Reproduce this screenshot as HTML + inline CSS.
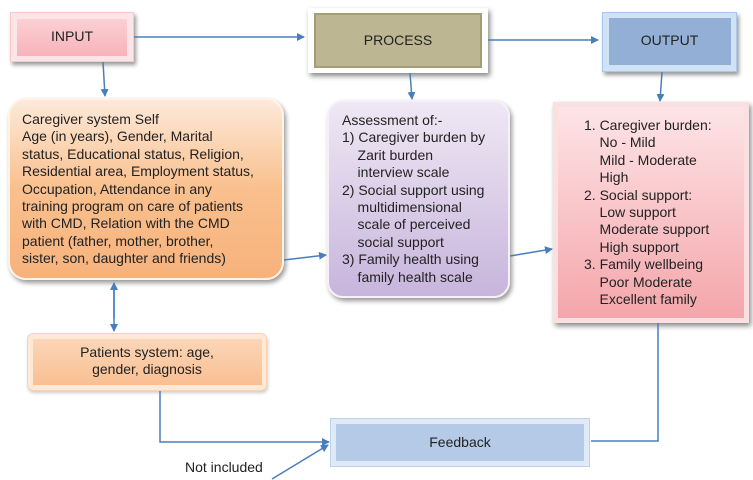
<!DOCTYPE html>
<html><head><style>
body{margin:0;width:753px;height:480px;background:#fff;position:relative;font-family:"Liberation Sans",sans-serif;color:#222;overflow:hidden}
.b{position:absolute;box-sizing:border-box}
.t{position:absolute;font-size:14px;line-height:17.4px}
</style></head><body>
<div class="b" style="left:10px;top:12px;width:124px;height:50px;background:#fde4e6;box-shadow:2px 3px 4px #999;border:1px solid #f6c8cc"></div>
<div class="b" style="left:17px;top:19px;width:110px;height:37px;background:linear-gradient(#fbd0d4,#f7b3b9)"></div>
<div class="t" style="left:10px;top:28px;width:124px;text-align:center">INPUT</div>

<div class="b" style="left:308px;top:8px;width:180px;height:65px;background:#fff;box-shadow:2px 3px 5px #888"></div>
<div class="b" style="left:314px;top:13px;width:168px;height:55px;background:#bdb693;border:2px solid #a49c74"></div>
<div class="t" style="left:308px;top:32px;width:180px;text-align:center">PROCESS</div>

<div class="b" style="left:602px;top:12px;width:135px;height:60px;background:#cfe2f6;box-shadow:2px 3px 4px #999;border:1px solid #a8c8ea"></div>
<div class="b" style="left:609px;top:18px;width:122px;height:47px;background:#93afd6"></div>
<div class="t" style="left:602px;top:32px;width:135px;text-align:center">OUTPUT</div>

<div class="b" style="left:8px;top:98px;width:276px;height:182px;border-radius:18px;background:linear-gradient(#fde9d9,#f9c08e 50%,#f7b27c);box-shadow:2px 3px 5px #999;border:2px solid #fff3e6"></div>
<div class="t" style="left:22px;top:111px;width:260px">Caregiver system Self<br>Age (in years), Gender, Marital<br>status, Educational status, Religion,<br>Residential area, Employment status,<br>Occupation, Attendance in any<br>training program on care of patients<br>with CMD, Relation with the CMD<br>patient (father, mother, brother,<br>sister, son, daughter and friends)</div>

<div class="b" style="left:327px;top:100px;width:183px;height:198px;border-radius:16px;background:linear-gradient(#efe8f4,#c7b5dc);box-shadow:2px 3px 5px #999;border:2px solid #f5f0f9"></div>
<div class="t" style="left:342px;top:112px;width:170px">Assessment of:-<br>1) Caregiver burden by<br>&nbsp;&nbsp;&nbsp;&nbsp;Zarit burden<br>&nbsp;&nbsp;&nbsp;&nbsp;interview scale<br>2) Social support using<br>&nbsp;&nbsp;&nbsp;&nbsp;multidimensional<br>&nbsp;&nbsp;&nbsp;&nbsp;scale of perceived<br>&nbsp;&nbsp;&nbsp;&nbsp;social support<br>3) Family health using<br>&nbsp;&nbsp;&nbsp;&nbsp;family health scale</div>

<div class="b" style="left:553px;top:102px;width:196px;height:221px;background:linear-gradient(#fde4e6,#f4a6ab);box-shadow:2px 3px 5px #888;border:5px solid #fbe0e2"></div>
<div class="t" style="left:584px;top:117px;width:165px">1. Caregiver burden:<br>&nbsp;&nbsp;&nbsp;&nbsp;No - Mild<br>&nbsp;&nbsp;&nbsp;&nbsp;Mild - Moderate<br>&nbsp;&nbsp;&nbsp;&nbsp;High<br>2. Social support:<br>&nbsp;&nbsp;&nbsp;&nbsp;Low support<br>&nbsp;&nbsp;&nbsp;&nbsp;Moderate support<br>&nbsp;&nbsp;&nbsp;&nbsp;High support<br>3. Family wellbeing<br>&nbsp;&nbsp;&nbsp;&nbsp;Poor Moderate<br>&nbsp;&nbsp;&nbsp;&nbsp;Excellent family</div>

<div class="b" style="left:27px;top:333px;width:240px;height:58px;border-radius:6px;background:#fde9d6;border:1px solid #fad3b0;box-shadow:1px 2px 3px #ccc"></div>
<div class="b" style="left:33px;top:339px;width:229px;height:46px;background:linear-gradient(#fbd6b8,#f9bf92)"></div>
<div class="t" style="left:27px;top:344px;width:240px;text-align:center">Patients system: age,<br>gender, diagnosis</div>

<div class="b" style="left:330px;top:418px;width:260px;height:49px;background:#dfeaf6;border:1px solid #bcd2ea"></div>
<div class="b" style="left:336px;top:424px;width:248px;height:37px;background:#b4cae6"></div>
<div class="t" style="left:330px;top:434px;width:260px;text-align:center">Feedback</div>
<div class="t" style="left:185px;top:459px">Not included</div>

<svg width="753" height="480" style="position:absolute;left:0;top:0" fill="none" stroke="#4a7ebb" stroke-width="1.5">
<defs><marker id="a" markerWidth="8" markerHeight="8" refX="7" refY="4" orient="auto" markerUnits="userSpaceOnUse"><path d="M0,0L8,4L0,8z" fill="#4a7ebb" stroke="none"/></marker></defs>
<path d="M134,37H304" marker-end="url(#a)"/>
<path d="M488,40H598" marker-end="url(#a)"/>
<path d="M103,62L105,96" marker-end="url(#a)"/>
<path d="M410,73L412,99" marker-end="url(#a)"/>
<path d="M662,72L660,101" marker-end="url(#a)"/>
<path d="M284,260L326,255" marker-end="url(#a)"/>
<path d="M510,256L552,249" marker-end="url(#a)"/>
<path d="M114,290V331" marker-end="url(#a)"/>
<path d="M114,318V283" marker-end="url(#a)"/>
<path d="M160,391V442H329" marker-end="url(#a)"/>
<path d="M658,323V441H591"/>
<path d="M272,479L328,445" marker-end="url(#a)"/>
</svg>
</body></html>
